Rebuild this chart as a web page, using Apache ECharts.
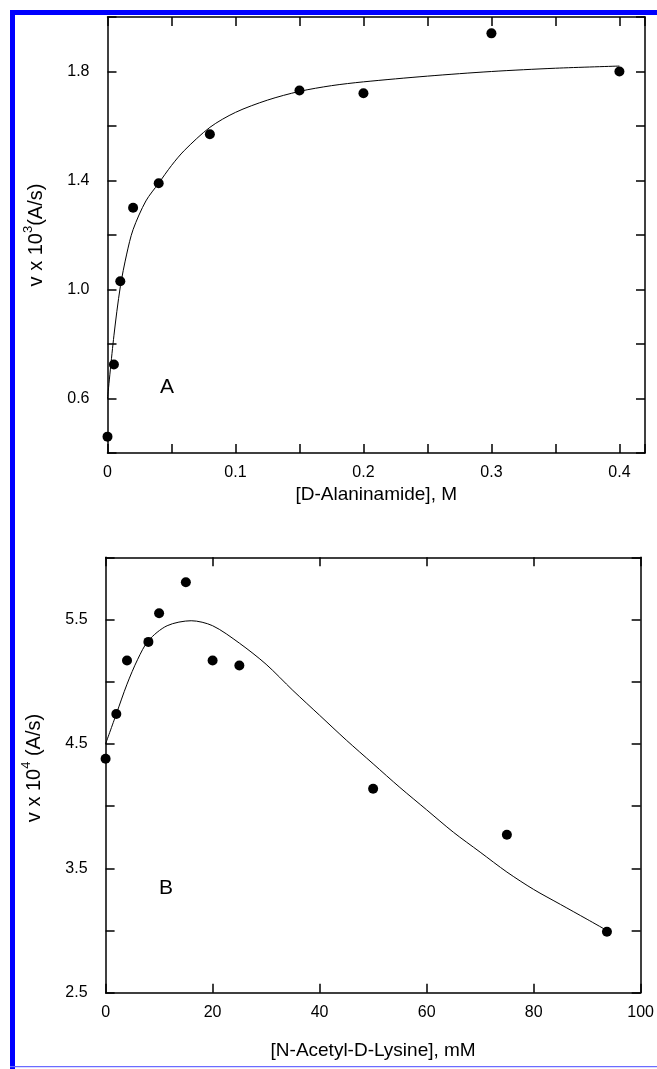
<!DOCTYPE html>
<html><head><meta charset="utf-8">
<script src="https://cdn.jsdelivr.net/npm/echarts@6/dist/echarts.min.js"></script>
<style>html,body{margin:0;padding:0;background:#fff}#c{width:657px;height:1069px}</style>
</head><body><div id="c"></div>
<script>
// Panel A: D-Alaninamide (M) vs v x 10^3 (A/s)
const concA = [0, 0.005, 0.01, 0.02, 0.04, 0.08, 0.15, 0.2, 0.3, 0.4];
const rateA = [0.46, 0.725, 1.03, 1.30, 1.39, 1.57, 1.73, 1.72, 1.94, 1.80];
const fitConcA = [0, 0.005, 0.01, 0.015, 0.02, 0.03, 0.04, 0.05, 0.06, 0.08, 0.10, 0.125, 0.15, 0.175, 0.2, 0.25, 0.3, 0.35, 0.4];
const fitRateA = [0.60, 0.83, 1.01, 1.13, 1.22, 1.325, 1.39, 1.455, 1.51, 1.595, 1.65, 1.695, 1.727, 1.748, 1.762, 1.783, 1.80, 1.812, 1.82];
// Panel B: N-Acetyl-D-Lysine (mM) vs v x 10^4 (A/s)
const concB = [0, 2, 4, 8, 10, 15, 20, 25, 50, 75, 93.7];
const rateB = [4.38, 4.74, 5.17, 5.32, 5.55, 5.80, 5.17, 5.13, 4.14, 3.77, 2.99];
const fitConcB = [0, 2, 4, 6, 8, 11.5, 16, 20, 25, 30, 35, 40, 45, 50, 55, 60, 65, 70, 75, 80, 85, 90, 93.7];
const fitRateB = [4.50, 4.74, 4.98, 5.18, 5.33, 5.45, 5.49, 5.45, 5.31, 5.14, 4.93, 4.73, 4.53, 4.34, 4.15, 3.97, 3.79, 3.63, 3.47, 3.33, 3.21, 3.09, 3.00];

const xTitleA = '[D-Alaninamide], M';
const xTitleB = '[N-Acetyl-D-Lysine], mM';
const panelLetters = ['A', 'B'];

const FONT = '"Liberation Sans", Arial, sans-serif';
const TICK_FS = 16, TITLE_FS = 19, YTITLE_FS = 20;

const zip = (a, b) => a.map((v, i) => [v, b[i]]);

function axisBase(extra) {
  return Object.assign({
    type: 'value',
    axisLine: { show: true, onZero: false, lineStyle: { color: '#000', width: 1.5 } },
    axisTick: { show: true, inside: true, length: 9, lineStyle: { color: '#000', width: 1.5 } },
    splitLine: { show: false },
    axisLabel: { show: false, color: '#000', fontSize: TICK_FS, fontFamily: FONT },
    nameTextStyle: { color: '#000', fontSize: TITLE_FS, fontFamily: FONT }
  }, extra);
}

const richY = {
  t: { fontSize: YTITLE_FS, fontFamily: FONT, color: '#000', lineHeight: 30 },
  s: { fontSize: 13, fontFamily: FONT, color: '#000', verticalAlign: 'top', lineHeight: 14 }
};

const chart = echarts.init(document.getElementById('c'), null, { renderer: 'canvas' });
chart.setOption({
  backgroundColor: '#fff',
  animation: false,
  grid: [
    { left: 107.5, right: 12, top: 17, bottom: 616 },
    { left: 105.6, right: 13.3, top: 557.3, bottom: 76.3 }
  ],
  xAxis: [
    axisBase({ gridIndex: 0, position: 'bottom', min: 0, max: 0.42, interval: 0.05,
      name: xTitleA, nameLocation: 'middle', nameGap: 32,
      axisLabel: { show: true, color: '#000', fontSize: TICK_FS, fontFamily: FONT, margin: 12,
        formatter: v => { const r = Math.round(v * 100); if (r % 10 !== 0) return ''; return r === 0 ? '0' : (r / 100).toFixed(1); } } }),
    axisBase({ gridIndex: 0, position: 'top', min: 0, max: 0.42, interval: 0.05 }),
    axisBase({ gridIndex: 1, position: 'bottom', min: 0, max: 100, interval: 20,
      name: xTitleB, nameLocation: 'middle', nameGap: 49,
      axisLabel: { show: true, color: '#000', fontSize: TICK_FS, fontFamily: FONT, margin: 12,
        formatter: v => String(Math.round(v)) } }),
    axisBase({ gridIndex: 1, position: 'top', min: 0, max: 100, interval: 20 })
  ],
  yAxis: [
    axisBase({ gridIndex: 0, position: 'left', min: 0.4, max: 2.0, interval: 0.2,
      name: '{t|v x 10}{s|3}{t|(A/s)}', nameLocation: 'middle', nameGap: 56, nameRotate: 90,
      nameTextStyle: { rich: richY },
      axisLabel: { show: true, color: '#000', fontSize: TICK_FS, fontFamily: FONT, margin: 18,
        formatter: v => { const r = Math.round(v * 10); return (r % 4 === 2) ? (r / 10).toFixed(1) : ''; } } }),
    axisBase({ gridIndex: 0, position: 'right', min: 0.4, max: 2.0, interval: 0.2 }),
    axisBase({ gridIndex: 1, position: 'left', min: 2.5, max: 6.0, interval: 0.5,
      name: '{t|v x 10}{s|4}{t| (A/s)}', nameLocation: 'middle', nameGap: 56, nameRotate: 90,
      nameTextStyle: { rich: richY, padding: [0, 0, 0, 14] },
      axisLabel: { show: true, color: '#000', fontSize: TICK_FS, fontFamily: FONT, margin: 18,
        formatter: v => { const r = Math.round(v * 2); return (r % 2 === 1) ? v.toFixed(1) : ''; } } }),
    axisBase({ gridIndex: 1, position: 'right', min: 2.5, max: 6.0, interval: 0.5 })
  ],
  series: [
    { type: 'line', xAxisIndex: 0, yAxisIndex: 0, data: zip(fitConcA, fitRateA), showSymbol: false, symbol: 'none',
      smooth: 0.3, lineStyle: { color: '#000', width: 1 }, z: 2 },
    { type: 'scatter', xAxisIndex: 0, yAxisIndex: 0, data: zip(concA, rateA), symbol: 'circle', symbolSize: 10,
      itemStyle: { color: '#000', opacity: 1 }, z: 3 },
    { type: 'line', xAxisIndex: 2, yAxisIndex: 2, data: zip(fitConcB, fitRateB), showSymbol: false, symbol: 'none',
      smooth: 0.3, lineStyle: { color: '#000', width: 1 }, z: 2 },
    { type: 'scatter', xAxisIndex: 2, yAxisIndex: 2, data: zip(concB, rateB), symbol: 'circle', symbolSize: 10,
      itemStyle: { color: '#000', opacity: 1 }, z: 3 }
  ],
  graphic: [
    { type: 'rect', shape: { x: 10, y: 10, width: 647, height: 5 }, style: { fill: '#0000ff' }, silent: true },
    { type: 'rect', shape: { x: 10, y: 10, width: 5, height: 1059 }, style: { fill: '#0000ff' }, silent: true },
    { type: 'rect', shape: { x: 10, y: 1066, width: 647, height: 1.2 }, style: { fill: '#6b6bff' }, silent: true },
    { type: 'text', x: 167, y: 387, style: { text: panelLetters[0], fill: '#000', font: '21px ' + FONT, textAlign: 'center', textVerticalAlign: 'middle' }, silent: true },
    { type: 'text', x: 166, y: 888, style: { text: panelLetters[1], fill: '#000', font: '21px ' + FONT, textAlign: 'center', textVerticalAlign: 'middle' }, silent: true }
  ]
});
</script></body></html>
